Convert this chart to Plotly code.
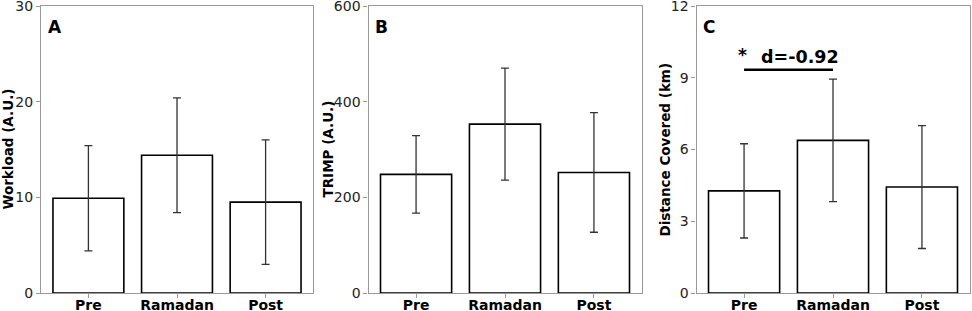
import plotly.graph_objects as go
from plotly.subplots import make_subplots

categories = ["Pre", "Ramadan", "Post"]
workload_mean = [9.9, 14.4, 9.5]
workload_sd = [5.5, 6.0, 6.5]
trimp_mean = [248, 353, 252]
trimp_sd = [81, 117, 125]
distance_mean = [4.27, 6.38, 4.43]
distance_sd = [1.97, 2.56, 2.57]
panel_labels = ["A", "B", "C"]
y_titles = ["Workload (A.U.)", "TRIMP (A.U.)", "Distance Covered (km)"]
y_ranges = [[0, 30], [0, 600], [0, 12]]
y_ticks = [[0, 10, 20, 30], [0, 200, 400, 600], [0, 3, 6, 9, 12]]
sig_text = "d=-0.92"
sig_y = 9.33

FONT = "DejaVu Sans"
fig = make_subplots(rows=1, cols=3)

means = [workload_mean, trimp_mean, distance_mean]
sds = [workload_sd, trimp_sd, distance_sd]
for i in range(3):
    fig.add_trace(go.Bar(
        x=[0, 1, 2], y=means[i], width=0.8,
        marker=dict(color="white", line=dict(color="black", width=1.6)),
        error_y=dict(type="data", array=sds[i], visible=True,
                     color="#333333", thickness=1.3, width=4),
        hoverinfo="skip", showlegend=False), row=1, col=i + 1)

doms = [[41/972, 313/972], [368.5/972, 641.5/972], [696.5/972, 969.5/972]]
ydom = [1 - 293/311, 1 - 6/311]
title_x = [7, 327, 664]
for i in range(3):
    xa = "xaxis" if i == 0 else f"xaxis{i+1}"
    ya = "yaxis" if i == 0 else f"yaxis{i+1}"
    fig.layout[xa].update(
        domain=doms[i], range=[-0.535, 2.535], tickmode="array",
        tickvals=[0, 1, 2], ticktext=[f"<b>{c}</b>" for c in categories],
        showline=True, linecolor="#999999", linewidth=1.3, mirror=True,
        ticks="outside", ticklen=4, tickcolor="#999999", showgrid=False,
        zeroline=False, automargin=False, ticklabeloverflow="allow",
        ticklabelstandoff=-5,
        tickfont=dict(family=FONT, size=14, color="black"))
    fig.layout[ya].update(
        domain=ydom, range=y_ranges[i], tickmode="array", tickvals=y_ticks[i],
        showline=True, linecolor="#999999", linewidth=1.3, mirror=True,
        ticks="outside", ticklen=4, tickcolor="#999999", showgrid=False,
        zeroline=False, automargin=False, ticklabeloverflow="allow",
        tickfont=dict(family=FONT, size=14, color="#222222"))
    xr = "x" if i == 0 else f"x{i+1}"
    yr = "y" if i == 0 else f"y{i+1}"
    fig.add_annotation(xref=f"{xr} domain", yref=f"{yr} domain", x=0.018, y=0.927,
                       xanchor="left", yanchor="middle", showarrow=False,
                       text=f"<b>{panel_labels[i]}</b>",
                       font=dict(family=FONT, size=17, color="black"))
    fig.add_annotation(xref="paper", yref=f"{yr} domain", x=title_x[i] / 972, y=0.5,
                       xanchor="center", yanchor="middle", showarrow=False,
                       textangle=-90, text=f"<b>{y_titles[i]}</b>",
                       font=dict(family=FONT, size=13.5, color="black"))

fig.add_shape(type="line", xref="x3", yref="y3", x0=0, x1=1, y0=sig_y, y1=sig_y,
              line=dict(color="black", width=2.5))
fig.add_annotation(xref="x3", yref="y3", x=0, y=sig_y, yshift=3, xshift=-2,
                   text="<b>*</b>", showarrow=False, xanchor="center", yanchor="bottom",
                   font=dict(family=FONT, size=17, color="black"))
fig.add_annotation(xref="x3", yref="y3", x=0, y=sig_y, yshift=1, xshift=15,
                   text=f"<b>{sig_text}</b>", showarrow=False, xanchor="left", yanchor="bottom",
                   font=dict(family=FONT, size=17.5, color="black"))

fig.update_layout(width=972, height=311, margin=dict(l=0, r=0, t=0, b=0),
                  plot_bgcolor="white", paper_bgcolor="white",
                  font=dict(family=FONT), hovermode=False)
fig.write_html("out.html", config={"displayModeBar": False},
               post_script="document.body.style.margin='0';document.body.style.overflow='hidden';")
